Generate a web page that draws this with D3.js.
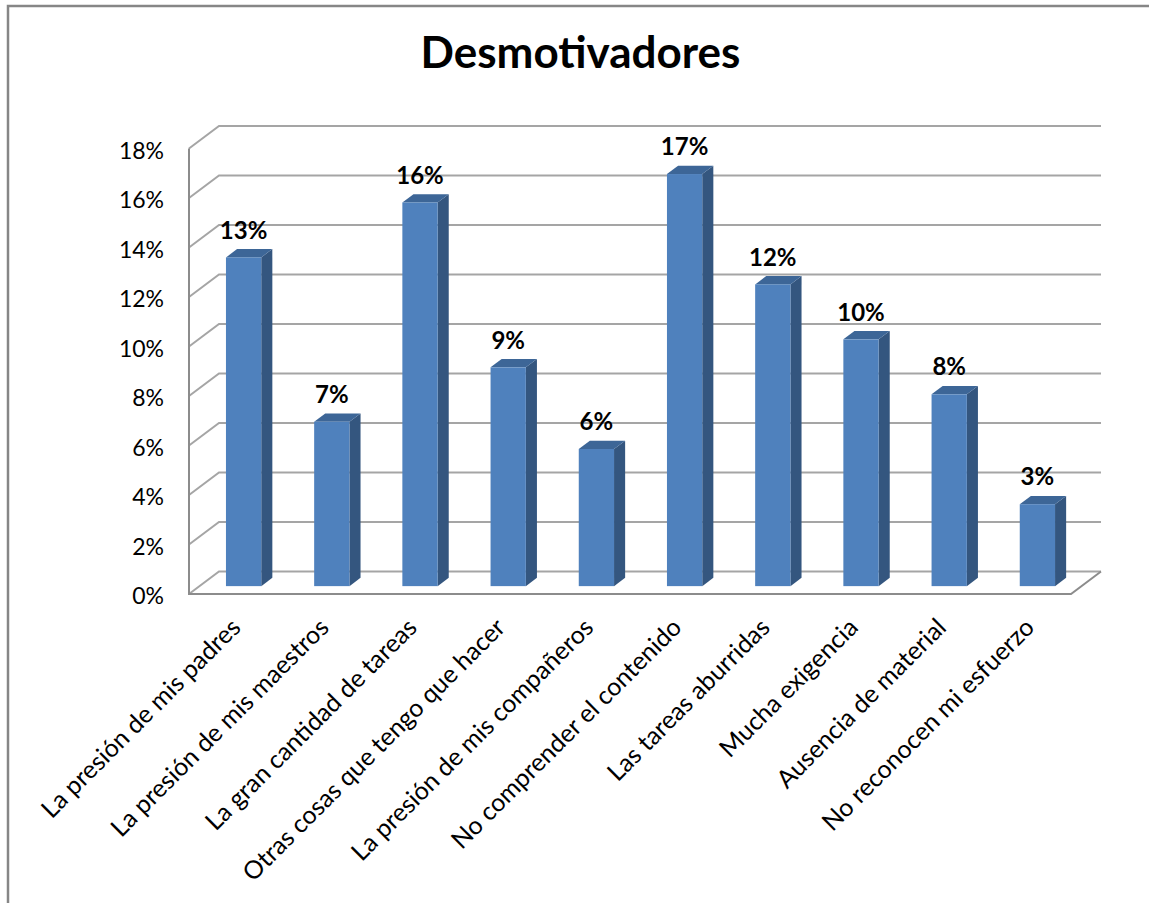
<!DOCTYPE html>
<html>
<head>
<meta charset="utf-8">
<script src="https://cdn.jsdelivr.net/npm/d3@7"></script>
<style>
  body { margin: 0; background: #fff; }
  text { font-family: Lato, "Open Sans", sans-serif; fill: #000; }
</style>
</head>
<body>
<div id="chart"></div>
<script>
'use strict';

var title = 'Desmotivadores';

var categories = [
  'La presión de mis padres',
  'La presión de mis maestros',
  'La gran cantidad de tareas',
  'Otras cosas que tengo que hacer',
  'La presión de mis compañeros',
  'No comprender el contenido',
  'Las tareas aburridas',
  'Mucha exigencia',
  'Ausencia de material',
  'No reconocen mi esfuerzo'
];

// percentages
var values = [13.28, 6.64, 15.50, 8.84, 5.54, 16.65, 12.19, 9.97, 7.75, 3.31];

var tickValues = [0, 2, 4, 6, 8, 10, 12, 14, 16, 18];

function makeColumnChart3d(containerSelector) {
  var width = 1149;
  var height = 903;
  // front plane of the plot, depth goes up-right
  var left = 189, right = 1071, bottom = 594, top = 148.5;
  var depth = {x: 30, y: -22.5};
  var barFront = 0.35;   // bars sit in the middle of the depth
  var barBack = 0.72;

  var svg = d3.select(containerSelector)
              .append('svg')
              .attr('width', width)
              .attr('height', height);

  // outer frame (only top and left visible)
  svg.append('path')
     .attr('d', 'M8,' + height + 'V6H' + width)
     .attr('fill', 'none')
     .attr('stroke', '#868686')
     .attr('stroke-width', 2.5);

  var x = d3.scaleBand()
            .domain(categories)
            .range([left, right])
            .paddingInner(0.6)
            .paddingOuter(0.3);

  var xc = d3.scaleBand()
             .domain(categories)
             .range([left, right]);

  var y = d3.scaleLinear()
            .domain([0, 18])
            .range([bottom, top]);

  function at(px, py, f) {
    return [px + depth.x * f, py + depth.y * f];
  }

  // gridlines: side wall + back wall
  var grid = svg.append('g').attr('class', 'grid');
  grid.selectAll('path')
      .data(tickValues)
      .enter().append('path')
      .attr('d', function(d) {
        var p0 = [left, y(d)];
        var p1 = at(left, y(d), 1);
        var p2 = at(right, y(d), 1);
        return 'M' + p0 + 'L' + p1 + 'L' + p2;
      })
      .attr('fill', 'none')
      .attr('stroke', '#a5a5a5')
      .attr('stroke-width', 2);

  // floor edge + left axis
  svg.append('path')
     .attr('d', 'M' + [left, y(18)] + 'L' + [left, bottom] + 'L' + [right, bottom] + 'L' + at(right, bottom, 1))
     .attr('fill', 'none')
     .attr('stroke', '#8c8c8c')
     .attr('stroke-width', 2);

  // y tick labels
  svg.append('g')
     .selectAll('text')
     .data(tickValues)
     .enter().append('text')
     .attr('x', 164)
     .attr('y', function(d) { return y(d) + 1; })
     .attr('dominant-baseline', 'central')
     .attr('text-anchor', 'end')
     .style('font-size', '23px')
     .text(function(d) { return d + '%'; });

  var side = {x: depth.x * (barBack - barFront), y: depth.y * (barBack - barFront)};

  var bars = svg.selectAll('.bar')
                .data(values)
                .enter().append('g')
                .attr('class', 'bar');

  function corners(d, i) {
    var a = at(x(categories[i]), y(d), barFront);
    var b = at(x(categories[i]), y(0), barFront);
    return {x0: a[0], x1: a[0] + x.bandwidth(), yTop: a[1], yBot: b[1]};
  }

  bars.append('path')
      .attr('d', function(d, i) {
        var c = corners(d, i);
        return 'M' + [c.x1, c.yTop] + 'L' + [c.x1 + side.x, c.yTop + side.y] +
               'L' + [c.x1 + side.x, c.yBot + side.y] + 'L' + [c.x1, c.yBot] + 'Z';
      })
      .attr('fill', '#34567f');

  bars.append('path')
      .attr('d', function(d, i) {
        var c = corners(d, i);
        return 'M' + [c.x0, c.yTop] + 'L' + [c.x1, c.yTop] +
               'L' + [c.x1 + side.x, c.yTop + side.y] + 'L' + [c.x0 + side.x, c.yTop + side.y] + 'Z';
      })
      .attr('fill', '#3d6697');

  bars.append('rect')
      .attr('x', function(d, i) { return corners(d, i).x0; })
      .attr('y', function(d, i) { return corners(d, i).yTop; })
      .attr('width', x.bandwidth())
      .attr('height', function(d, i) { var c = corners(d, i); return c.yBot - c.yTop; })
      .attr('fill', '#4f81bd');

  // value labels
  bars.append('text')
      .attr('x', function(d, i) { return corners(d, i).x0 + x.bandwidth() / 2; })
      .attr('y', function(d, i) { return corners(d, i).yTop + side.y - 10.5; })
      .attr('text-anchor', 'middle')
      .style('font-size', '24px')
      .style('font-weight', 'bold')
      .text(function(d) { return Math.round(d) + '%'; });

  // category labels, rotated
  svg.append('g')
     .selectAll('text')
     .data(categories)
     .enter().append('text')
     .attr('transform', function(d) {
       return 'translate(' + (xc(d) + xc.bandwidth() / 2 + 9) + ',629) rotate(-45)';
     })
     .attr('text-anchor', 'end')
     .style('font-size', '25px')
     .text(function(d) { return d; });

  svg.append('text')
     .attr('x', 580.5)
     .attr('y', 68)
     .attr('text-anchor', 'middle')
     .style('font-size', '44px')
     .style('font-weight', 'bold')
     .text(title);
}

makeColumnChart3d('#chart');
</script>
</body>
</html>
